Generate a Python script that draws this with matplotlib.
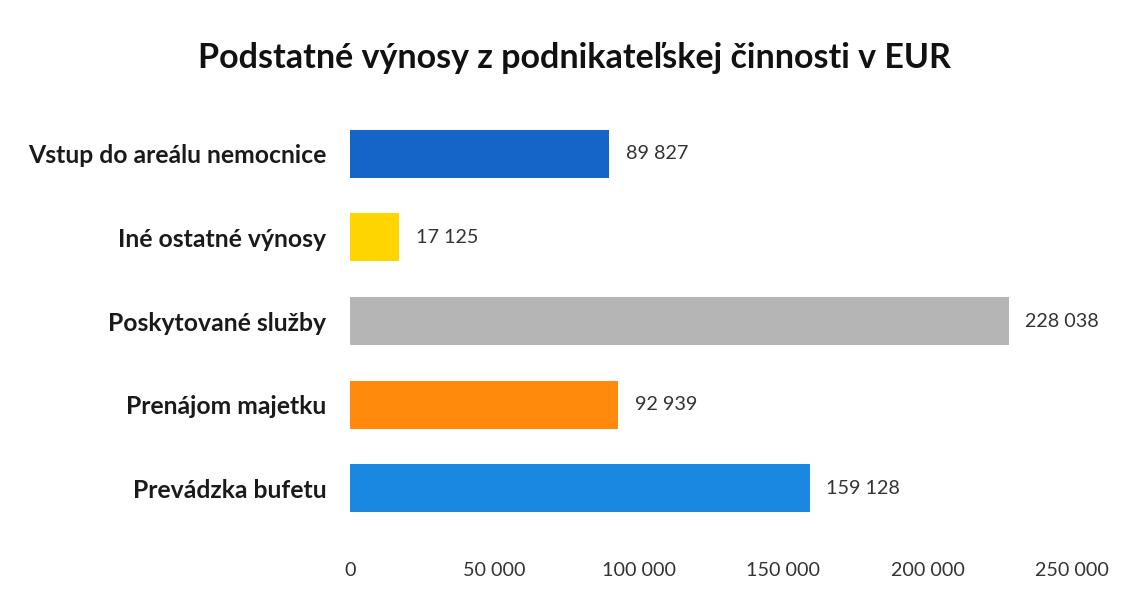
import matplotlib
matplotlib.use("Agg")
import matplotlib.pyplot as plt
from matplotlib.ticker import FuncFormatter

title = "Podstatné výnosy z podnikateľskej činnosti v EUR"
categories = ["Vstup do areálu nemocnice", "Iné ostatné výnosy", "Poskytované služby",
              "Prenájom majetku", "Prevádzka bufetu"]
values = [89827, 17125, 228038, 92939, 159128]
colors = ["#1565C8", "#FFD500", "#B5B5B5", "#FF8A0C", "#1A88E0"]
xticks = [0, 50000, 100000, 150000, 200000, 250000]

def fmt(v):
    return f"{int(v):,}".replace(",", " ")

plt.rcParams['font.family'] = ['Lato', 'DejaVu Sans']

fig = plt.figure(figsize=(11.32, 5.92), dpi=100)
ax = fig.add_axes([350/1132, 1-530/592, (1072-350)/1132, (530-112)/592])

ypos = list(range(len(categories)))
ax.barh(ypos, values, height=0.575, color=colors)
ax.set_ylim(4.5, -0.5)
ax.set_xlim(0, 250000)
ax.set_yticks(ypos)
ax.set_yticklabels(categories, fontsize=17.8, fontweight='bold', color='#1a1a1a')
ax.set_xticks(xticks)
ax.xaxis.set_major_formatter(FuncFormatter(lambda v, p: fmt(v)))
ax.tick_params(axis='x', length=0, pad=23, labelsize=14.2, labelcolor='#333333')
ax.tick_params(axis='y', length=0, pad=17)
for s in ax.spines.values():
    s.set_visible(False)

for y, v in zip(ypos, values):
    ax.annotate(fmt(v), (v, y), xytext=(12, 0), textcoords='offset points',
                va='center', ha='left', fontsize=14.2, color='#333333')

fig.text(574/1132, 1-58/592, title, ha='center', va='center',
         fontsize=24.5, fontweight='bold', color='#111111')

fig.savefig("out.png", dpi=100, facecolor='white')
